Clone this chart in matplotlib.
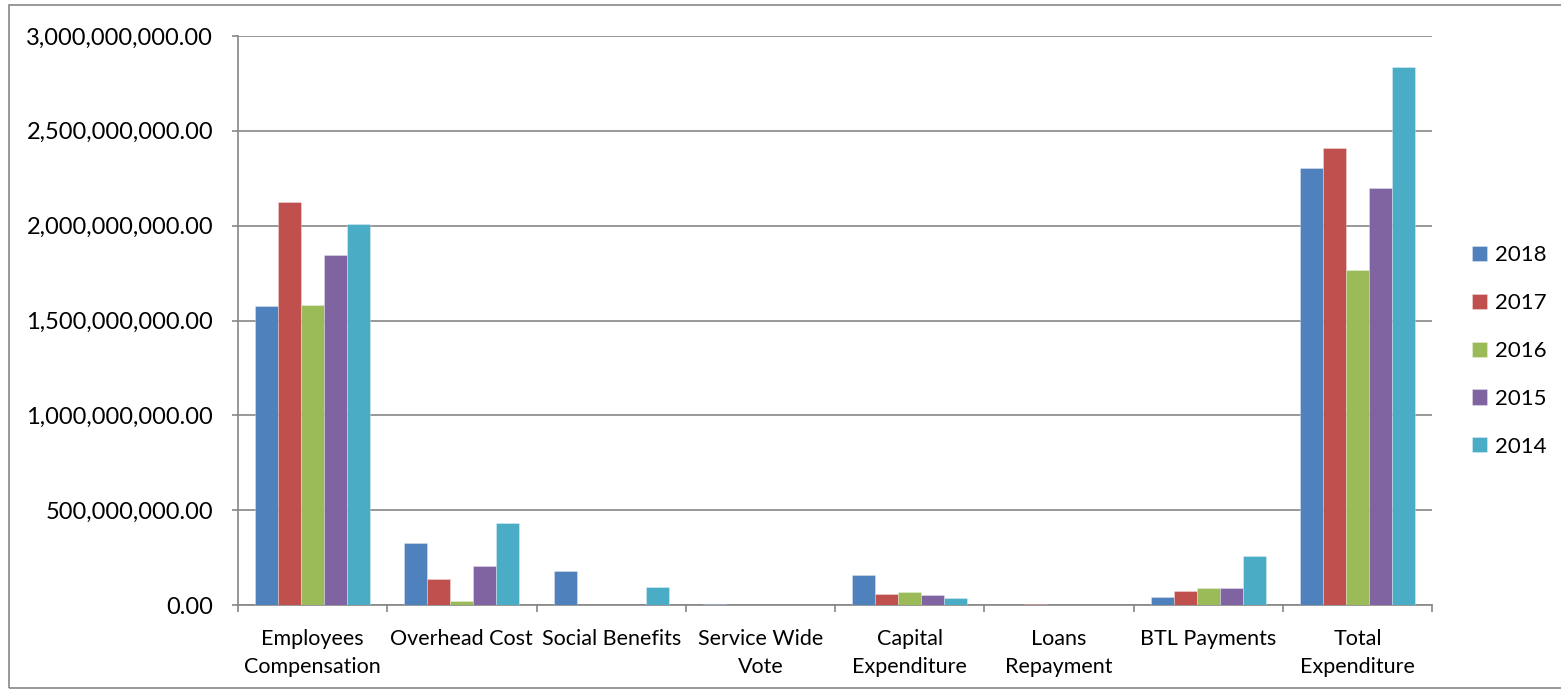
import matplotlib
matplotlib.use("Agg")
import matplotlib.pyplot as plt
from matplotlib.patches import Rectangle
import numpy as np

categories = ["Employees\nCompensation", "Overhead Cost", "Social Benefits", "Service Wide\nVote",
              "Capital\nExpenditure", "Loans\nRepayment", "BTL Payments", "Total\nExpenditure"]
years = ["2018", "2017", "2016", "2015", "2014"]
v2018 = [1.576e9, 0.326e9, 0.181e9, 0.003e9, 0.160e9, 0.0e9, 0.044e9, 2.304e9]
v2017 = [2.125e9, 0.135e9, 0.0e9, 0.0e9, 0.056e9, 0.007e9, 0.074e9, 2.410e9]
v2016 = [1.580e9, 0.021e9, 0.0e9, 0.0e9, 0.067e9, 0.0e9, 0.088e9, 1.766e9]
v2015 = [1.845e9, 0.204e9, 0.0e9, 0.0e9, 0.053e9, 0.0e9, 0.088e9, 2.199e9]
v2014 = [2.010e9, 0.430e9, 0.093e9, 0.0e9, 0.039e9, 0.0e9, 0.258e9, 2.837e9]
series = [v2018, v2017, v2016, v2015, v2014]
colors = ["#4F81BD", "#C0504D", "#9BBB59", "#8064A2", "#4BACC6"]

plt.rcParams['font.family'] = ['Lato', 'DejaVu Sans']

W, H = 1561, 692
fig = plt.figure(figsize=(W/100, H/100), dpi=100)
ax = fig.add_axes([238/W, 1-605/H, (1432-238)/W, (605-36)/H])

n = len(categories)
x = np.arange(n)
bw = 1/6.5
for i, (vals, c, lab) in enumerate(zip(series, colors, years)):
    ax.bar(x - 2*bw + i*bw, vals, width=bw, color=c, label=lab,
           edgecolor=(1, 1, 1, 0.35), linewidth=0.6, zorder=3)

ax.set_xlim(-0.5, n-0.5)
ax.set_ylim(0, 3e9)
yt = np.arange(0, 3.01e9, 0.5e9)
ax.set_yticks(yt)
ax.set_yticklabels([f"{v:,.2f}" for v in yt], fontsize=17, color="#000000")
ax.yaxis.grid(True, color="#868686", linewidth=1.2, zorder=0)
ax.set_axisbelow(True)
ax.tick_params(axis='y', length=4, color="#868686", width=1.2, pad=14)

ax.set_xticks(x)
ax.set_xticklabels(categories, fontsize=15.5, color="#000000", linespacing=1.55)
ax.tick_params(axis='x', length=0, pad=17)
ax.set_xticks(np.arange(-0.5, n, 1), minor=True)
ax.tick_params(axis='x', which='minor', length=5, color="#868686", width=1.2)

for s in ["top", "right"]:
    ax.spines[s].set_visible(False)
for s in ["left", "bottom"]:
    ax.spines[s].set_color("#868686")
    ax.spines[s].set_linewidth(1.2)

leg = fig.legend(loc="center left", bbox_to_anchor=(1472/W, 1-351/H), frameon=False,
                 fontsize=16, handlelength=0.675, handleheight=0.675, handletextpad=0.35,
                 labelspacing=1.25, borderpad=0, borderaxespad=0)

fig.patches.append(Rectangle((9/W, 1-688/H), (W+5)/W, (688-5)/H, transform=fig.transFigure,
                             fill=False, edgecolor="#868686", linewidth=1.2))

fig.savefig("out.png", dpi=100)
